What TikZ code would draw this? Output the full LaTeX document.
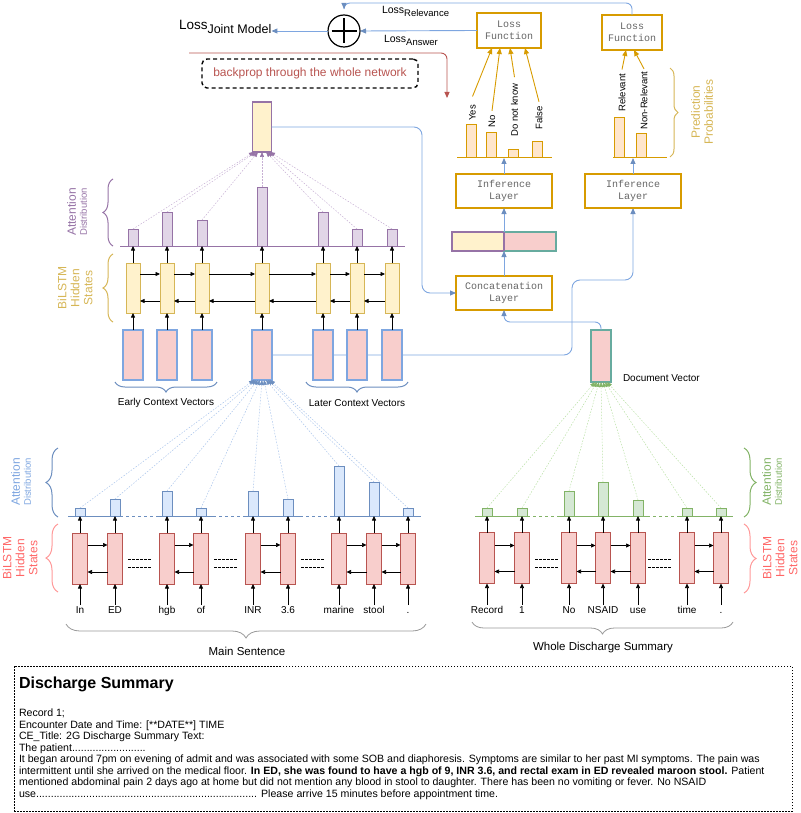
\documentclass[tikz,border=0pt]{standalone}
\usepackage{fontspec}
\setmainfont{Liberation Sans}
\newfontfamily\monof{Liberation Mono}
\usetikzlibrary{arrows.meta,decorations.pathreplacing,calc,backgrounds}
\definecolor{purB}{HTML}{9673A6}
\definecolor{purF}{HTML}{E1D5E7}
\definecolor{purL}{HTML}{C7B0D4}
\definecolor{yelF}{HTML}{FFF2CC}
\definecolor{yelB}{HTML}{D6B656}
\definecolor{pinkF}{HTML}{F8CECC}
\definecolor{redB}{HTML}{B85450}
\definecolor{redT}{HTML}{FF6666}
\definecolor{redL}{HTML}{FF9999}
\definecolor{bluF}{HTML}{DAE8FC}
\definecolor{bluB}{HTML}{6C8EBF}
\definecolor{bluL}{HTML}{7EA6E0}
\definecolor{bluD}{HTML}{A9C4EB}
\definecolor{grnF}{HTML}{D5E8D4}
\definecolor{grnB}{HTML}{82B366}
\definecolor{grnL}{HTML}{B9E0A5}
\definecolor{tealB}{HTML}{67AB9F}
\definecolor{goldB}{HTML}{D79B00}
\definecolor{orF}{HTML}{FFE6CC}
\definecolor{grayB}{HTML}{999999}
\newcommand\fz[2]{\fontsize{#1}{#2}\selectfont}
\begin{document}
\begin{tikzpicture}[x=1pt,y=-1pt,
  every node/.style={inner sep=0pt,outer sep=0pt},
  blk/.style={black,line width=0.7pt,-{Triangle[length=4.5pt,width=4pt]}},
  bline/.style={draw=bluL,line width=0.9pt,-{Triangle[length=6pt,width=5pt,color=bluB]}},
  gline/.style={draw=goldB,line width=0.9pt,-{Triangle[length=6pt,width=5pt]}},
  hidY/.style={draw=yelB,fill=yelF,line width=0.8pt,minimum width=14pt,minimum height=50pt},
  hidR/.style={draw=redB,fill=pinkF,line width=0.8pt,minimum width=15pt,minimum height=51pt},
  ctxV/.style={draw=bluL,fill=pinkF,line width=1.5pt,minimum width=20pt,minimum height=50pt},
  barP/.style={draw=purB,fill=purF,line width=0.8pt,minimum width=10pt,anchor=south},
  barB/.style={draw=bluB,fill=bluF,line width=0.8pt,minimum width=10pt,anchor=south},
  barG/.style={draw=grnB,fill=grnF,line width=0.8pt,minimum width=10pt,anchor=south},
  pbar/.style={draw=goldB,fill=orF,line width=0.8pt,minimum width=10pt,anchor=south},
  attP/.style={draw=purL,line width=0.5pt,dash pattern=on 1.5pt off 1.5pt,-{Triangle[length=5pt,width=4pt,color=purB]}},
  attB/.style={draw=bluD,line width=0.5pt,dash pattern=on 1.5pt off 1.5pt,-{Triangle[length=5pt,width=4pt,color=bluB]}},
  attG/.style={draw=grnL,line width=0.5pt,dash pattern=on 1.5pt off 1.5pt,-{Triangle[length=5pt,width=4pt,color=grnB]}},
  word/.style={font=\fz{10}{12},text height=7pt,text depth=2pt,inner sep=1.5pt},
  plab/.style={rotate=90,anchor=west,font=\fz{9.5}{11},inner sep=0.5pt},
  monobox/.style={draw=goldB,fill=white,line width=1.6pt,align=center,font=\monof\fz{10}{12},text=black!60},
  brc/.style={decorate,decoration={brace,amplitude=#1}},
  sidelab/.style={rotate=90,align=center},
  gdash/.style={black,line width=0.6pt,dash pattern=on 2.5pt off 1.5pt}
]
\useasboundingbox (0,0) rectangle (800,813);

% ================= upper (main sentence) attention =================
\draw[purB,line width=0.9pt] (120,246) -- (405,246);
\foreach \i/\x/\t in {1/133/229,2/167/212,3/202/220,4/262/187,5/323/212,6/357/229,7/392/229}{
  \node[ctxV] (uc\i) at (\x,355) {};
  \node[hidY] (uh\i) at (\x,288) {};
  \pgfmathsetmacro\hh{246-\t}
  \node[barP,minimum height=\hh pt] (ub\i) at (\x,246) {};
  \draw[blk] (uc\i.north) -- (uh\i.south);
  \draw[blk] (uh\i.north) -- (ub\i.south);
}
\foreach \i/\j in {1/2,2/3,3/4,4/5,5/6,6/7}{
  \draw[blk] ($(uh\i.north east)+(0,11)$) -- ($(uh\j.north west)+(0,11)$);
  \draw[blk] ($(uh\j.south west)+(0,-12)$) -- ($(uh\i.south east)+(0,-12)$);
}
\node[draw=purB,fill=yelF,line width=1.5pt,minimum width=19pt,minimum height=50pt] (av) at (262,127) {};
\foreach \i/\o in {1/-8,2/-6,3/-4,4/0,5/4,6/6,7/8}
  \draw[attP] (ub\i.north) -- ($(av.south)+(\o,0)$);

% braces upper left
\draw[purB,line width=1pt,brc=10pt] (113,246) -- (113,179);
\node[sidelab,text=purB] (tattU) at (77,212) {{\fz{12}{13}Attention}\\[-1pt]{\fz{9.5}{11}Distribution}};
\draw[yelB,line width=1pt,brc=10pt] (113,322) -- (113,254);
\node[sidelab,text=yelB,font=\fz{12}{13}] (tbiU) at (75,288) {BiLSTM\\Hidden\\States};
\draw[bluB,line width=1pt,brc=10pt] (217,382) -- (115,382);
\draw[bluB,line width=1pt,brc=10pt] (408,382) -- (306,382);
\node[font=\fz{10}{12}] (tearly) at (166,403) {Early Context Vectors};
\node[font=\fz{10}{12}] (tlater) at (357,403) {Later Context Vectors};

% ================= bottom-left (main sentence) =================
\draw[bluB,line width=0.9pt] (68,516) -- (120,516);
\draw[bluB,line width=0.9pt,dashed] (120,516) -- (157,516);
\draw[bluB,line width=0.9pt] (157,516) -- (213,516);
\draw[bluB,line width=0.9pt,dashed] (213,516) -- (245,516);
\draw[bluB,line width=0.9pt] (245,516) -- (300,516);
\draw[bluB,line width=0.9pt,dashed] (300,516) -- (333,516);
\draw[bluB,line width=0.9pt] (333,516) -- (421,516);
\foreach \i/\x/\t/\w in {1/80/508/In,2/115/499/ED,3/167/491/hgb,4/201/508/of,5/253/491/INR,6/288/499/3.6,7/339/466/marine,8/374/482/stool,9/408/508/.}{
  \node[hidR] (lh\i) at (\x,558.5) {};
  \node[word] (lw\i) at (\x,611) {\w};
  \pgfmathsetmacro\hh{516-\t}
  \node[barB,minimum height=\hh pt] (lb\i) at (\x,516) {};
  \draw[blk] (lw\i.north) -- (lh\i.south);
  \draw[blk] (lh\i.north) -- (lb\i.south);
}
\foreach \i/\j in {1/2,3/4,5/6,7/8,8/9}{
  \draw[blk] ($(lh\i.north east)+(0,12)$) -- ($(lh\j.north west)+(0,12)$);
  \draw[blk] ($(lh\j.south west)+(0,-12)$) -- ($(lh\i.south east)+(0,-12)$);
}
\foreach \a/\b in {128/152,214/238,301/324}{
  \draw[gdash] (\a,559) -- (\b,559);
  \draw[gdash] (\a,567) -- (\b,567);
}
\foreach \i in {1,...,9}{
  \pgfmathsetmacro\oo{(\i-5)*2}
  \draw[attB] (lb\i.north) -- ($(uc4.south)+(\oo,0)$);
}
\draw[bluB,line width=1pt,brc=12pt] (58,517) -- (58,448);
\node[sidelab,text=bluL] (tattL) at (21,482) {{\fz{12}{13}Attention}\\[-1pt]{\fz{9.5}{11}Distribution}};
\draw[redL,line width=1pt,brc=12pt] (58,592) -- (58,524);
\node[sidelab,text=redT,font=\fz{12}{13}] (tbiL) at (20,558) {BiLSTM\\Hidden\\States};
\draw[grayB,line width=0.8pt,brc=14pt] (426,624) -- (66,624);
\node[font=\fz{11.5}{13}] (tmain) at (247,651) {Main Sentence};

% ================= bottom-right (whole discharge summary) =================
\draw[grnB,line width=0.9pt] (475,516) -- (527,516);
\draw[grnB,line width=0.9pt,dashed] (527,516) -- (560,516);
\draw[grnB,line width=0.9pt] (560,516) -- (647,516);
\draw[grnB,line width=0.9pt,dashed] (647,516) -- (680,516);
\draw[grnB,line width=0.9pt] (680,516) -- (733,516);
\foreach \i/\x/\t/\w in {1/487/508/Record,2/522/508/1,3/569/491/No,4/603/482/NSAID,5/638/500/use,6/687/508/time,7/721/508/.}{
  \node[hidR] (rh\i) at (\x,558) {};
  \node[word] (rw\i) at (\x,611) {\w};
  \pgfmathsetmacro\hh{516-\t}
  \node[barG,minimum height=\hh pt] (rb\i) at (\x,516) {};
  \draw[blk] (rw\i.north) -- (rh\i.south);
  \draw[blk] (rh\i.north) -- (rb\i.south);
}
\foreach \i/\j in {1/2,3/4,4/5,6/7}{
  \draw[blk] ($(rh\i.north east)+(0,13)$) -- ($(rh\j.north west)+(0,13)$);
  \draw[blk] ($(rh\j.south west)+(0,-12)$) -- ($(rh\i.south east)+(0,-12)$);
}
\foreach \a/\b in {535/558,648/672}{
  \draw[gdash] (\a,559) -- (\b,559);
  \draw[gdash] (\a,567) -- (\b,567);
}
\node[draw=tealB,fill=pinkF,line width=1.5pt,minimum width=20pt,minimum height=52pt] (dv) at (601,356) {};
\node[anchor=west,font=\fz{10}{12}] (tdv) at (623,378) {Document Vector};
\foreach \i in {1,...,7}{
  \pgfmathsetmacro\oo{(\i-4)*2}
  \draw[attG] (rb\i.north) -- ($(dv.south)+(\oo,0)$);
}
\draw[grnB,line width=1pt,brc=12pt] (744,448) -- (744,517);
\node[sidelab,text=grnB] (tattR) at (772,482) {{\fz{12}{13}Attention}\\[-1pt]{\fz{9.5}{11}Distribution}};
\draw[redL,line width=1pt,brc=12pt] (744,524) -- (744,593);
\node[sidelab,text=redT,font=\fz{12}{13}] (tbiR) at (780,558) {BiLSTM\\Hidden\\States};
\draw[grayB,line width=0.8pt,brc=12pt] (733,622) -- (472,622);
\node[font=\fz{11.5}{13}] (twhole) at (603,648) {Whole Discharge Summary};

% ================= right top: concat / inference / prediction =================
\node[monobox,minimum width=96pt,minimum height=34pt] (cat) at (504,293) {Concatenation\\Layer};
\node[draw=purB,fill=yelF,line width=1.5pt,minimum width=52pt,minimum height=19pt] (cvL) at (478,241.5) {};
\node[draw=tealB,fill=pinkF,line width=1.5pt,minimum width=52pt,minimum height=19pt] (cvR) at (530,241.5) {};
\draw[purB,line width=1.5pt] (cvL.north east) -- (cvL.south east);
\node[monobox,minimum width=96pt,minimum height=34pt] (inf1) at (504,191) {Inference\\Layer};
\node[monobox,minimum width=96pt,minimum height=34pt] (inf2) at (633,191) {Inference\\Layer};
\draw[bline] (cat.north) -- (cvL.south east);
\draw[bline] (cvL.north east) -- (inf1.south);

\draw[goldB,line width=0.9pt] (457,157) -- (552,157);
\draw[goldB,line width=0.9pt] (613,157) -- (667,157);
\coordinate (pb1) at (504,158);
\coordinate (pb2) at (633,158);
\draw[bline] (inf1.north) -- (pb1);
\draw[bline] (inf2.north) -- (pb2);
\node[pbar,minimum height=33pt] (pyes) at (471.5,157) {};
\node[pbar,minimum height=25pt] (pno) at (491,157) {};
\node[pbar,minimum height=8pt] (pdk) at (513,157) {};
\node[pbar,minimum height=16pt] (pfa) at (537,157) {};
\node[pbar,minimum height=40pt] (prel) at (619,157) {};
\node[pbar,minimum height=24pt] (pnon) at (641,157) {};
\node[plab] (lyes) at (472.5,121) {Yes};
\node[plab] (lno) at (492,128) {No};
\node[plab] (ldk) at (514.5,137) {Do not know};
\node[plab] (lfa) at (539,130) {False};
\node[plab] (lrel) at (622,112) {Relevant};
\node[plab] (lnon) at (644,130) {Non-Relevant};
\draw[yelB,line width=1pt,brc=8pt] (670,68) -- (670,157);
\node[sidelab,text=yelB,font=\fz{12}{13}] (tpred) at (702,112) {Prediction\\Probabilities};

\node[monobox,minimum width=64pt,minimum height=35pt] (lf1) at (509,30.5) {Loss\\Function};
\node[monobox,minimum width=60pt,minimum height=35pt] (lf2) at (632,32.5) {Loss\\Function};
\draw[gline] ($(lyes.east)+(0,-8)$) -- ($(lf1.south)+(-17,0)$);
\draw[gline] ($(lno.east)+(0,-4)$) -- ($(lf1.south)+(-9,0)$);
\draw[gline] ($(ldk.east)+(0,-6)$) -- ($(lf1.south)+(1,0)$);
\draw[gline] ($(lfa.east)+(0,-4)$) -- ($(lf1.south)+(16,0)$);
\draw[gline] ($(lrel.east)+(0,-4)$) -- ($(lf2.south)+(-6,0)$);
\draw[gline] ($(lnon.east)+(0,-2)$) -- ($(lf2.south)+(2,0)$);

% ================= loss combination =================
\node[circle,draw,line width=1.2pt,minimum size=32pt] (plus) at (344,31) {};
\draw[line width=1.2pt] ($(plus.center)+(-12.5,0)$) -- ($(plus.center)+(12.5,0)$);
\draw[line width=1.2pt] ($(plus.center)+(0,-12.5)$) -- ($(plus.center)+(0,12.5)$);
\node[anchor=base west] (ljoint) at (179,30) {{\fz{13.5}{15}Loss}\raisebox{-4pt}{\fz{12.5}{14}Joint Model}};
\node[anchor=base west] (lrelv) at (382,14) {{\fz{10.5}{12}Loss}\raisebox{-3pt}{\fz{9.5}{11}Relevance}};
\node[anchor=base west] (lans) at (384,43) {{\fz{10.5}{12}Loss}\raisebox{-3pt}{\fz{9.5}{11}Answer}};
\draw[bline] (plus.west) -- (plus.west -| ljoint.east);
\draw[bline] (lf1.west) -- (plus.east);
\draw[bline,rounded corners=6pt,shorten >=6pt] (lf2.north) -- (632,3) -- (344,3) -- (plus.north);

% backprop
\coordinate (bp1) at (189,53);
\coordinate (bp2) at (447,98);
\draw[redB,line width=0.9pt,rounded corners=6pt,-{Triangle[length=6pt,width=5pt]}] (bp1) -| (bp2);
\node[draw,dash pattern=on 4pt off 3pt,line width=1.4pt,rounded corners=5pt,minimum width=216pt,minimum height=29pt,text=redB,font=\fz{12}{14}] (bpbox) at (310,73.5) {backprop through the whole network};

% ================= long connectors =================
\begin{scope}[on background layer]
\draw[bline,rounded corners=8pt] (uc4.east) -- (572,355) -- (572,280) -- (633,280) -- (inf2.south);
\end{scope}
\draw[bline,rounded corners=8pt] (av.east) -- (422,127) -- (422,293) -- (cat.west);
\draw[bline,rounded corners=6pt] (dv.north) -- (601,322) -- (504,322) -- (cat.south);

% ================= text box =================
\node[draw,dash pattern=on 1.5pt off 1.5pt,line width=0.6pt,minimum width=778pt,minimum height=145pt,anchor=north west] (tbox) at (14,666) {};
\node[anchor=west,font=\bfseries\fz{16}{19}] (ttitle) at (19,684) {Discharge Summary};
\node[anchor=north west,align=left,font=\fz{10.6}{11.5}] (tbody) at (19,709) {Record 1;\\
Encounter Date and Time: [**DATE**] TIME\\
CE\_Title: 2G Discharge Summary Text:\\
The patient\hbox to 76pt{\leaders\hbox{.}\hfill}\\
It began around 7pm on evening of admit and was associated with some SOB and diaphoresis. Symptoms are similar to her past MI symptoms. The pain was\\
intermittent until she arrived on the medical floor. \textbf{In ED, she was found to have a hgb of 9, INR 3.6, and rectal exam in ED revealed maroon stool.} Patient\\
mentioned abdominal pain 2 days ago at home but did not mention any blood in stool to daughter. There has been no vomiting or fever. No NSAID\\
use\hbox to 222pt{\leaders\hbox{.}\hfill} Please arrive 15 minutes before appointment time.};
\end{tikzpicture}
\end{document}
